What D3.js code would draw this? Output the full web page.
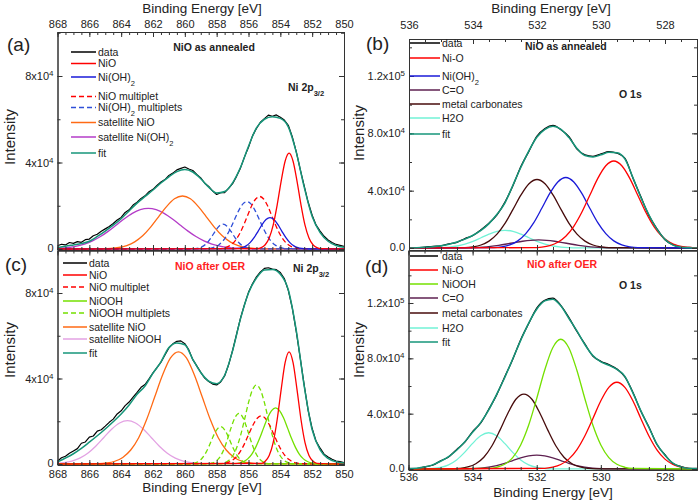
<!DOCTYPE html>
<html><head><meta charset="utf-8">
<script src="https://cdn.jsdelivr.net/npm/d3@7"></script>
<style>
body{margin:0;background:#fff}
svg{display:block}
text{font-family:"Liberation Sans",Arial,Helvetica,sans-serif;fill:#222}
</style>
</head><body>
<svg id="chart" width="700" height="502"></svg>
<script>
// ================= DATA (intensities in units of 10^3 counts) =================
const niTicks = [868,866,864,862,860,858,856,854,852,850];
const oTicks = [536,534,532,530,528];
const niYTickVals = [0,40,80];
const niYTickLabels = ["0","4x10^{4}","8x10^{4}"];
const oYTickVals = [0,40,80,120];
const oYTickLabels = ["0.0","4.0x10^{4}","8.0x10^{4}","1.2x10^{5}"];

// ---- (a) Ni 2p3/2, NiO as annealed ----
const dataA = [1.5,2.2,1.9,3.0,2.6,3.4,3.1,4.3,4.6,6.1,6.8,8.2,9.3,10.4,11.8,13.4,14.6,16.9,18.1,20.3,21.6,23.4,24.6,26.5,27.6,29.4,31.0,32.1,34.0,35.1,36.6,37.3,37.9,37.0,36.3,34.5,32.9,30.4,28.9,26.8,25.2,26.0,26.1,28.0,30.2,33.6,37.5,42.6,47.0,52.3,55.7,58.6,60.3,61.9,61.4,62.0,60.9,59.6,57.2,51.9,45.0,36.8,29.2,21.6,15.6,11.0,8.3,5.9,4.2,3.0,2.1,1.7,1.2]; // 868 -> 850 step 0.25
const fitA = [0.6,1.3,1.9,2.5,3.6,5.8,8.3,11.0,14.0,17.6,21.2,24.3,27.3,30.5,33.4,35.8,36.8,35.6,32.5,28.6,25.9,26.6,30.6,37.8,47.5,56.0,60.0,61.2,60.4,56.5,44.8,28.6,15.0,7.6,3.6,1.6,0.8]; // 868 -> 850 step 0.5
const aNiO = {start:855.45, step:0.25, v:[0.17,0.63,1.95,5.05,11.0,20.3,31.3,40.6,44.3,40.6,31.3,20.3,11.0,5.05,1.95,0.63,0.17]};
const aNiOH2 = {start:856.9, step:0.25, v:[0.08,0.25,0.64,1.46,2.94,5.22,8.16,11.24,13.6,14.5,13.6,11.24,8.16,5.22,2.94,1.46,0.64,0.25,0.08]};
const aNiOMult = {start:857.8, step:0.25, v:[0.18,0.47,1.07,2.22,4.18,7.17,11.1,15.6,20.0,23.1,24.3,23.1,20.0,15.6,11.1,7.17,4.18,2.22,1.07,0.47,0.18]};
const aNiOH2Mult1 = {start:858.6, step:0.25, v:[0.17,0.42,0.96,2.0,3.77,6.46,10.0,14.1,18.0,20.85,21.9,20.85,18.0,14.1,10.0,6.46,3.77,2.0,0.96,0.42,0.17]};
const aNiOH2Mult2 = {start:859.6, step:0.25, v:[0.045,0.16,0.51,1.31,2.86,5.27,8.13,10.55,11.5,10.55,8.13,5.27,2.86,1.31,0.51,0.16,0.045]};
const aSatNiO = {start:865.15, step:0.5, v:[0.10,0.27,0.70,1.61,3.31,6.1,10.1,14.9,19.6,23.2,24.5,23.2,19.6,14.9,10.1,6.1,3.31,1.61,0.70,0.27,0.10]};
const aSatNiOH2 = {start:868.3, step:0.5, v:[0.17,0.35,0.70,1.31,2.29,3.74,5.75,8.27,11.1,14.0,16.5,18.2,18.8,18.2,16.5,14.0,11.1,8.27,5.75,3.74,2.29,1.31,0.70,0.35,0.17,0.07]};

// ---- (b) O 1s, NiO as annealed ----
const dataB = [0.3,0.1,0.6,1.2,1.5,2.9,4.0,6.6,8.7,12.8,17.3,23.2,32.0,43.6,57.0,67.6,78.0,83.4,85.5,82.5,77.6,69.0,64.9,63.9,65.6,67.3,66.2,62.5,48.6,35.5,22.6,13.4,5.7,2.3,0.4,0.5,0.1]; // 536 -> 527 step 0.25
const fitB = [0,0.2,0.5,0.9,1.6,2.6,4.2,6.2,8.9,12.3,17.0,23.5,31.5,44.0,56.5,68.0,77.4,82.8,84.9,82.8,77.0,69.5,64.5,63.5,65.0,66.8,66.5,62.0,49.0,35.0,23.0,13.0,6.0,2.0,0.6,0.2,0];
const bNiO = {start:532.1, step:0.25, v:[0.24,0.67,1.74,3.99,8.2,15.1,24.9,36.8,48.6,57.4,60.7,57.4,48.6,36.8,24.9,15.1,8.2,3.99,1.74,0.67,0.24]};
const bNiOH2 = {start:533.35, step:0.25, v:[0.28,0.83,2.16,4.95,10.0,17.7,27.7,38.1,46.1,49.2,46.1,38.1,27.7,17.7,10.0,4.95,2.16,0.83,0.28]};
const bCO = {start:534.7, step:0.25, v:[0.03,0.07,0.17,0.35,0.67,1.18,1.90,2.80,3.80,4.71,5.36,5.6,5.36,4.71,3.80,2.80,1.90,1.18,0.67,0.35,0.17,0.07,0.03]};
const bCarb = {start:534.25, step:0.25, v:[0.27,0.81,2.10,4.81,9.70,17.2,26.9,37.0,44.8,47.8,44.8,37.0,26.9,17.2,9.70,4.81,2.10,0.81,0.27]};
const bH2O = {start:535.25, step:0.25, v:[0.09,0.26,0.64,1.40,2.73,4.69,7.15,9.67,11.6,12.3,11.6,9.67,7.15,4.69,2.73,1.40,0.64,0.26,0.09]};

// ---- (c) Ni 2p3/2, NiO after OER ----
const dataC = [1.3,2.9,3.6,5.0,6.1,7.2,9.7,10.3,12.6,13.1,15.4,16.0,17.7,19.5,21.0,23.4,24.9,27.3,29.0,31.3,33.5,35.9,37.2,39.8,42.6,45.1,47.6,51.0,54.3,56.2,57.4,57.6,56.3,53.4,48.8,45.9,42.9,40.2,38.6,37.4,37.0,38.4,41.2,46.4,53.1,60.7,68.3,74.6,80.3,84.3,87.6,89.9,91.5,91.8,91.2,90.9,89.6,86.8,81.2,73.0,62.0,49.6,36.9,25.0,16.6,10.6,7.4,4.6,3.3,2.2,1.4,1.1,0.6];
const fitC = [1.0,2.8,4.8,7.3,10.2,13.2,16.4,19.8,23.4,27.6,32.6,36.5,42.5,47.8,54.5,56.6,55.8,49.0,42.8,38.8,37.6,41.5,53.0,68.0,80.0,87.0,90.8,91.0,88.8,81.5,62.5,36.5,16.0,6.6,2.6,1.0,0.5];
const cNiO = {start:855.2, step:0.25, v:[0.33,1.28,3.97,10.0,20.7,34.7,47.4,52.5,47.4,34.7,20.7,10.0,3.97,1.28,0.33]};
const cNiOMult = {start:857.7, step:0.25, v:[0.17,0.43,0.99,2.06,3.87,6.64,10.3,14.5,18.5,21.4,22.5,21.4,18.5,14.5,10.3,6.64,3.87,2.06,0.99,0.43,0.17]};
const cNiOOH = {start:856.8, step:0.25, v:[0.20,0.50,1.16,2.40,4.52,7.76,12.0,16.9,21.6,25.0,26.3,25.0,21.6,16.9,12.0,7.76,4.52,2.40,1.16,0.50,0.20]};
const cNiOOHMult1 = {start:857.75, step:0.25, v:[0.21,0.63,1.63,3.73,7.51,13.3,20.8,28.7,34.7,37.0,34.7,28.7,20.8,13.3,7.51,3.73,1.63,0.63,0.21]};
const cNiOOHMult2 = {start:858.6, step:0.25, v:[0.09,0.34,1.04,2.70,5.90,10.9,16.8,21.7,23.7,21.7,16.8,10.9,5.90,2.70,1.04,0.34,0.09]};
const cNiOOHMult3 = {start:859.75, step:0.25, v:[0.07,0.25,0.77,2.0,4.36,8.0,12.4,16.0,17.5,16.0,12.4,8.0,4.36,2.0,0.77,0.25,0.07]};
const cSatNiO = {start:865.4, step:0.5, v:[0.16,0.48,1.29,3.08,6.54,12.3,20.8,31.2,41.6,49.6,52.5,49.6,41.6,31.2,20.8,12.3,6.54,3.08,1.29,0.48,0.16]};
const cSatNiOOH = {start:868.6, step:0.5, v:[0.08,0.23,0.58,1.33,2.74,5.05,8.34,12.3,16.3,19.2,20.3,19.2,16.3,12.3,8.34,5.05,2.74,1.33,0.58,0.23,0.08]};

// ---- (d) O 1s, NiO after OER ----
const dataD = [0.4,0.3,1.6,2.7,5.9,8.7,14.0,19.2,27.0,33.1,43.0,53.6,66.5,79.2,93.5,105.2,116.3,122.0,123.5,118.3,109.6,99.6,90.4,81.7,77.9,75.4,72.3,66.6,55.5,41.7,30.4,17.7,10.3,3.9,1.8,0.3,0.4];
const fitD = [0,0.5,1.4,3.0,5.6,9.0,13.6,19.5,26.5,33.5,42.5,54.0,66.0,79.5,93.0,105.5,115.5,121.5,122.8,118.0,109.0,100.0,90.0,82.0,77.5,75.0,72.0,67.0,55.0,42.0,30.0,18.0,10.0,4.2,1.5,0.5,0.1];
const dNiO = {start:531.75, step:0.25, v:[0.48,1.32,3.26,7.15,13.9,23.9,36.4,49.3,59.0,62.7,59.0,49.3,36.4,23.9,13.9,7.15,3.26,1.32,0.48]};
const dNiOOH = {start:533.5, step:0.25, v:[0.39,1.25,3.42,8.25,17.4,31.8,51.0,71.6,87.7,93.8,87.7,71.6,51.0,31.8,17.4,8.25,3.42,1.25,0.39]};
const dCO = {start:534.25, step:0.25, v:[0.11,0.29,0.66,1.36,2.51,4.15,6.13,8.09,9.55,10.1,9.55,8.09,6.13,4.15,2.51,1.36,0.66,0.29,0.11]};
const dCarb = {start:534.65, step:0.25, v:[0.14,0.48,1.45,3.78,8.51,16.6,27.9,40.3,50.4,54.2,50.4,40.3,27.9,16.6,8.51,3.78,1.45,0.48,0.14]};
const dH2O = {start:535.5, step:0.25, v:[0.10,0.37,1.15,2.99,6.52,12.0,18.5,24.0,26.2,24.0,18.5,12.0,6.52,2.99,1.15,0.37,0.10]};

// legend labels
const legendA = ["data","NiO","Ni(OH)_{2}","NiO multiplet","Ni(OH)_{2} multiplets","satellite NiO","satellite Ni(OH)_{2}","fit"];
const legendB = ["data","Ni-O","Ni(OH)_{2}","C=O","metal carbonates","H2O","fit"];
const legendC = ["data","NiO","NiO multiplet","NiOOH","NiOOH multiplets","satellite NiO","satellite NiOOH","fit"];
const legendD = ["data","Ni-O","NiOOH","C=O","metal carbonates","H2O","fit"];

// ================= STYLE =================
const C = {
  data:"#000000", red:"#ff0000", blue:"#1a1ad8", blueD:"#2f4fd8", orange:"#ff6a14",
  magenta:"#b43cc8", pink:"#e3a2e3", lime:"#74e000", teal:"#16967a",
  h2o:"#72f2d6", co:"#5e2050", carb:"#470b0b", titleRed:"#ff2222"
};
const DASH = "5,3";

// ================= HELPERS =================
const svg = d3.select("#chart");
function rich(t, s){
  s.split(/(_\{[^}]*\}|\^\{[^}]*\})/).filter(p=>p.length).forEach(p=>{
    if(p.startsWith("_{")) t.append("tspan").attr("baseline-shift","sub").attr("font-size","72%").text(p.slice(2,-1));
    else if(p.startsWith("^{")) t.append("tspan").attr("baseline-shift","super").attr("font-size","72%").text(p.slice(2,-1));
    else t.append("tspan").text(p);
  });
}
function gridPts(arr, e0, step){ return arr.map((v,i)=>[e0 - i*step, v]); }
function compPts(c, dom){
  const pts = c.v.map((v,i)=>[c.start - i*c.step, v]);
  if(c.start < dom[0]) pts.unshift([dom[0],0]);
  if(pts[pts.length-1][0] > dom[1]) pts.push([dom[1],0]);
  return pts;
}

function drawPanel(p){
  const g = svg.append("g");
  const x = d3.scaleLinear().domain(p.xDom).range([p.left,p.right]);
  const yLo = -(p.bottom - p.y0px)/p.pxPerK, yHi = (p.y0px - p.top)/p.pxPerK;
  const y = d3.scaleLinear().domain([yLo,yHi]).range([p.bottom,p.top]);
  const clipId = "clip"+p.id;
  svg.append("clipPath").attr("id",clipId).append("rect")
    .attr("x",p.left).attr("y",p.top).attr("width",p.right-p.left).attr("height",p.bottom-p.top);

  const curves = g.append("g").attr("clip-path",`url(#${clipId})`);
  p.series.forEach(s=>{
    const line = d3.line().x(d=>x(d[0])).y(d=>y(d[1])).curve(s.smooth?d3.curveMonotoneX:d3.curveLinear);
    curves.append("path").datum(s.pts).attr("d",line).attr("fill","none")
      .attr("stroke",s.color).attr("stroke-width",s.w||1.3)
      .attr("stroke-dasharray",s.dash||null).attr("stroke-linejoin","round");
  });

  const minor = d3.range(p.xDom[1], p.xDom[0]+0.001, 0.5);
  const yMinor = d3.range(0, yHi, 20);
  function styleAx(a){ a.selectAll("path.domain").attr("stroke","#333").attr("stroke-width",1);
    a.selectAll(".tick line").attr("stroke","#333"); a.attr("font-family",null).attr("font-size",null);
    a.selectAll(".tick text").attr("font-size",11).attr("fill","#222"); }
  let ax = g.append("g").attr("transform",`translate(0,${p.top})`)
    .call(d3.axisTop(x).tickValues(minor).tickSize(-3).tickFormat("").tickSizeOuter(0)); styleAx(ax);
  ax = g.append("g").attr("transform",`translate(0,${p.top})`)
    .call(d3.axisTop(x).tickValues(p.xTicks).tickSize(-5).tickPadding(p.xPadTop).tickSizeOuter(0)
      .tickFormat(p.labelsTop? d3.format("d") : "")); styleAx(ax);
  ax = g.append("g").attr("transform",`translate(0,${p.bottom})`)
    .call(d3.axisBottom(x).tickValues(minor).tickSize(-3).tickFormat("").tickSizeOuter(0)); styleAx(ax);
  ax = g.append("g").attr("transform",`translate(0,${p.bottom})`)
    .call(d3.axisBottom(x).tickValues(p.xTicks).tickSize(-5).tickPadding(p.xPadBottom).tickSizeOuter(0)
      .tickFormat(p.labelsTop? "" : d3.format("d"))); styleAx(ax);
  ax = g.append("g").attr("transform",`translate(${p.left},0)`)
    .call(d3.axisLeft(y).tickValues(yMinor).tickSize(-3).tickFormat("").tickSizeOuter(0)); styleAx(ax);
  ax = g.append("g").attr("transform",`translate(${p.left},0)`)
    .call(d3.axisLeft(y).tickValues(p.yTicks).tickSize(-5).tickPadding(4).tickSizeOuter(0).tickFormat("")); styleAx(ax);
  ax.selectAll(".tick text").each(function(d,i){ const t=d3.select(this); t.text(null); rich(t,p.yLabels[i]); });
  ax.selectAll(".tick").filter(d=>d===0).select("text").attr("dy","0.2em");
  ax = g.append("g").attr("transform",`translate(${p.right},0)`)
    .call(d3.axisRight(y).tickValues(yMinor).tickSize(-3).tickFormat("").tickSizeOuter(0)); styleAx(ax);
  ax = g.append("g").attr("transform",`translate(${p.right},0)`)
    .call(d3.axisRight(y).tickValues(p.yTicks).tickSize(-5).tickFormat("").tickSizeOuter(0)); styleAx(ax);

  svg.append("text").attr("x",p.xTitle[0]).attr("y",p.xTitle[1]).attr("text-anchor","middle")
    .attr("font-size",13.5).text("Binding Energy [eV]");
  svg.append("text").attr("transform",`translate(${p.yTitle[0]},${p.yTitle[1]}) rotate(-90)`)
    .attr("text-anchor","middle").attr("font-size",15).text("Intensity");
  svg.append("text").attr("x",p.letter[0]).attr("y",p.letter[1]).attr("font-size",19).text(p.letterText);
  p.titles.forEach(tt=>{
    const t = svg.append("text").attr("x",tt.x).attr("y",tt.y).attr("font-size",10.5)
      .attr("font-weight","bold").attr("text-anchor",tt.anchor||"start");
    if(tt.color) t.style("fill",tt.color);
    rich(t, tt.text);
  });
  p.legend.forEach((L,i)=>{
    const yy = p.legRows[i];
    svg.append("line").attr("x1",p.legX[0]).attr("x2",p.legX[1]).attr("y1",yy).attr("y2",yy)
      .attr("stroke",L.color).attr("stroke-width",1.5).attr("stroke-dasharray",L.dash||null);
    const t = svg.append("text").attr("x",p.legX[2]).attr("y",yy).attr("dy","0.36em").attr("font-size",10.5);
    rich(t, L.label);
  });
}

const NI_DOM = [868,850], O_DOM = [536,527];

drawPanel({
  id:"a", left:57.5, right:344, top:32, bottom:250, y0px:249, pxPerK:2.1625, xDom:NI_DOM,
  xTicks:niTicks, labelsTop:true, xPadTop:4, xPadBottom:3, yTicks:niYTickVals, yLabels:niYTickLabels,
  xTitle:[202,13], yTitle:[15,137], letter:[7,51], letterText:"(a)",
  titles:[{text:"NiO as annealed",x:214,y:51,anchor:"middle"},{text:"Ni 2p_{3/2}",x:288,y:91}],
  legX:[71,96,98], legRows:[52,63.5,77,96.5,107.5,122.5,137,153],
  legend:[{label:legendA[0],color:C.data},{label:legendA[1],color:C.red},{label:legendA[2],color:C.blue},
    {label:legendA[3],color:C.red,dash:DASH},{label:legendA[4],color:C.blueD,dash:DASH},
    {label:legendA[5],color:C.orange},{label:legendA[6],color:C.magenta},{label:legendA[7],color:C.teal}],
  series:[
    {pts:gridPts(dataA,868,0.25),color:C.data,w:1.2},
    {pts:compPts(aSatNiOH2,NI_DOM),color:C.magenta,smooth:true},
    {pts:compPts(aSatNiO,NI_DOM),color:C.orange,smooth:true},
    {pts:compPts(aNiOH2Mult2,NI_DOM),color:C.blueD,dash:DASH,smooth:true},
    {pts:compPts(aNiOH2Mult1,NI_DOM),color:C.blueD,dash:DASH,smooth:true},
    {pts:compPts(aNiOMult,NI_DOM),color:C.red,dash:DASH,smooth:true},
    {pts:compPts(aNiOH2,NI_DOM),color:C.blue,smooth:true},
    {pts:compPts(aNiO,NI_DOM),color:C.red,smooth:true},
    {pts:gridPts(fitA,868,0.5),color:C.teal,w:1.5,smooth:true}
  ]
});

drawPanel({
  id:"b", left:409, right:697, top:39, bottom:250, y0px:248, pxPerK:1.4333, xDom:O_DOM,
  xTicks:oTicks, labelsTop:true, xPadTop:10, xPadBottom:3, yTicks:oYTickVals, yLabels:oYTickLabels,
  xTitle:[551,13], yTitle:[364,133], letter:[366,50], letterText:"(b)",
  titles:[{text:"NiO as annealed",x:525,y:50},{text:"O 1s",x:619,y:98}],
  legX:[410,440,442], legRows:[43,58,76,90,104,118,134],
  legend:[{label:legendB[0],color:C.data},{label:legendB[1],color:C.red},{label:legendB[2],color:C.blue},
    {label:legendB[3],color:C.co},{label:legendB[4],color:C.carb},{label:legendB[5],color:C.h2o},{label:legendB[6],color:C.teal}],
  series:[
    {pts:gridPts(dataB,536,0.25),color:C.data,w:1.3,smooth:true},
    {pts:compPts(bH2O,O_DOM),color:C.h2o,smooth:true},
    {pts:compPts(bCO,O_DOM),color:C.co,smooth:true},
    {pts:compPts(bCarb,O_DOM),color:C.carb,smooth:true},
    {pts:compPts(bNiOH2,O_DOM),color:C.blue,smooth:true},
    {pts:compPts(bNiO,O_DOM),color:C.red,smooth:true},
    {pts:gridPts(fitB,536,0.25),color:C.teal,w:1.5,smooth:true}
  ]
});

drawPanel({
  id:"c", left:57.5, right:344, top:250.5, bottom:465, y0px:464, pxPerK:2.1375, xDom:NI_DOM,
  xTicks:niTicks, labelsTop:false, xPadTop:4, xPadBottom:5, yTicks:niYTickVals, yLabels:niYTickLabels,
  xTitle:[202,492], yTitle:[15,350], letter:[5,271], letterText:"(c)",
  titles:[{text:"NiO after OER",x:175,y:270,color:C.titleRed},{text:"Ni 2p_{3/2}",x:293,y:272}],
  legX:[63,87,89], legRows:[263,275,287,301,313,327,339,353],
  legend:[{label:legendC[0],color:C.data},{label:legendC[1],color:C.red},{label:legendC[2],color:C.red,dash:DASH},
    {label:legendC[3],color:C.lime},{label:legendC[4],color:C.lime,dash:DASH},{label:legendC[5],color:C.orange},
    {label:legendC[6],color:C.pink},{label:legendC[7],color:C.teal}],
  series:[
    {pts:gridPts(dataC,868,0.25),color:C.data,w:1.2},
    {pts:compPts(cSatNiOOH,NI_DOM),color:C.pink,smooth:true},
    {pts:compPts(cSatNiO,NI_DOM),color:C.orange,smooth:true},
    {pts:compPts(cNiOOHMult3,NI_DOM),color:C.lime,dash:DASH,smooth:true},
    {pts:compPts(cNiOOHMult2,NI_DOM),color:C.lime,dash:DASH,smooth:true},
    {pts:compPts(cNiOOHMult1,NI_DOM),color:C.lime,dash:DASH,smooth:true},
    {pts:compPts(cNiOMult,NI_DOM),color:C.red,dash:DASH,smooth:true},
    {pts:compPts(cNiOOH,NI_DOM),color:C.lime,smooth:true},
    {pts:compPts(cNiO,NI_DOM),color:C.red,smooth:true},
    {pts:gridPts(fitC,868,0.5),color:C.teal,w:1.5,smooth:true}
  ]
});

drawPanel({
  id:"d", left:408.5, right:697, top:250.5, bottom:470, y0px:469, pxPerK:1.3833, xDom:O_DOM,
  xTicks:oTicks, labelsTop:false, xPadTop:4, xPadBottom:3, yTicks:oYTickVals, yLabels:oYTickLabels,
  xTitle:[553,497], yTitle:[364,350], letter:[365,273], letterText:"(d)",
  titles:[{text:"NiO after OER",x:527,y:268,color:C.titleRed},{text:"O 1s",x:619,y:289}],
  legX:[410,438,442], legRows:[256,270,284,298,313,328,342],
  legend:[{label:legendD[0],color:C.data},{label:legendD[1],color:C.red},{label:legendD[2],color:C.lime},
    {label:legendD[3],color:C.co},{label:legendD[4],color:C.carb},{label:legendD[5],color:C.h2o},{label:legendD[6],color:C.teal}],
  series:[
    {pts:gridPts(dataD,536,0.25),color:C.data,w:1.3,smooth:true},
    {pts:compPts(dH2O,O_DOM),color:C.h2o,smooth:true},
    {pts:compPts(dCO,O_DOM),color:C.co,smooth:true},
    {pts:compPts(dCarb,O_DOM),color:C.carb,smooth:true},
    {pts:compPts(dNiOOH,O_DOM),color:C.lime,smooth:true},
    {pts:compPts(dNiO,O_DOM),color:C.red,smooth:true},
    {pts:gridPts(fitD,536,0.25),color:C.teal,w:1.5,smooth:true}
  ]
});
</script>
</body></html>
